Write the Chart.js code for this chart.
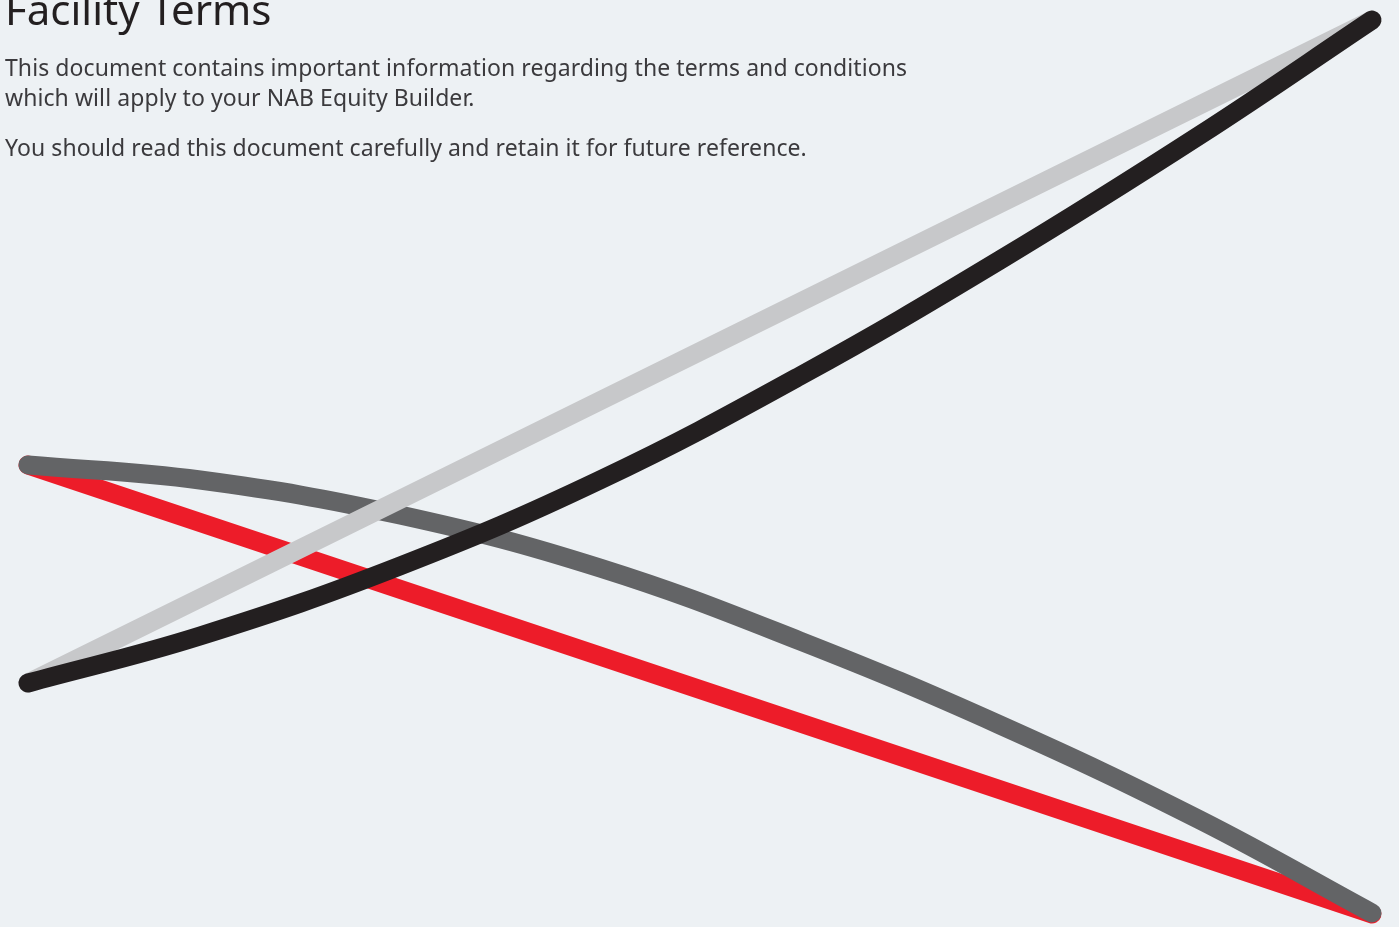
<!DOCTYPE html>
<html>
<head>
<meta charset="utf-8">
<title>Facility Terms</title>
<script src="https://cdn.jsdelivr.net/npm/chart.js@4/dist/chart.umd.min.js"></script>
<style>
    html, body { margin: 0; padding: 0; background: #edf1f4; overflow: hidden; }
    #wrap { position: relative; width: 1399px; height: 927px; }
    #swoosh { position: absolute; left: 0; top: 0; }
    .copy { position: absolute; left: 5px; font-family: "Noto Sans", sans-serif; color: #3b3a3d; white-space: nowrap; }
    #title { top: -12px; font-size: 42px; line-height: 42px; color: #231f20; }
    #intro { top: 52px; font-size: 23px; line-height: 30px; letter-spacing: 0.08px; }
    #intro p { margin: 0 0 20px 0; }
</style>
</head>
<body>
<div id="wrap">
    <canvas id="swoosh" width="1399" height="927"></canvas>
    <div class="copy" id="title">Facility Terms</div>
    <div class="copy" id="intro">
        <p>This document contains important information regarding the terms and conditions<br>which will apply to your NAB Equity Builder.</p>
        <p>You should read this document carefully and retain it for future reference.</p>
    </div>
</div>
<script>
// page units: x runs 0..1399 left to right, y runs 0..927 top to bottom
const redX = [28, 1372];
const redY = [465, 914];

const darkX = [28, 200, 400, 600, 800, 1000, 1200, 1372];
const darkY = [465, 480, 515, 568, 641, 725, 820, 913];

const lightX = [28, 1372];
const lightY = [683, 20];

const blackX = [28, 200, 400, 600, 800, 1000, 1200, 1372];
const blackY = [683, 636, 566, 480, 376, 260, 135, 20];

const toPoints = (xs, ys) => xs.map((x, i) => ({ x: x, y: ys[i] }));

// first dataset is painted last (on top)
const swooshChart = new Chart(document.getElementById('swoosh').getContext('2d'), {
    type: 'line',
    data: {
        datasets: [
            { label: 'black', data: toPoints(blackX, blackY), borderColor: '#231f20', tension: 0.4 },
            { label: 'light', data: toPoints(lightX, lightY), borderColor: '#c7c8ca', tension: 0 },
            { label: 'dark', data: toPoints(darkX, darkY), borderColor: '#636466', tension: 0.4 },
            { label: 'red', data: toPoints(redX, redY), borderColor: '#ed1c29', tension: 0 }
        ]
    },
    options: {
        responsive: false,
        animation: false,
        layout: { padding: 0 },
        elements: {
            point: { radius: 0, hoverRadius: 0 },
            line: { borderWidth: 19, borderCapStyle: 'round', borderJoinStyle: 'round', fill: false }
        },
        scales: {
            x: { type: 'linear', min: 0, max: 1399, display: false },
            y: { type: 'linear', min: 0, max: 927, reverse: true, display: false }
        },
        plugins: { legend: { display: false }, tooltip: { enabled: false } },
        events: []
    }
});
</script>
</body>
</html>
